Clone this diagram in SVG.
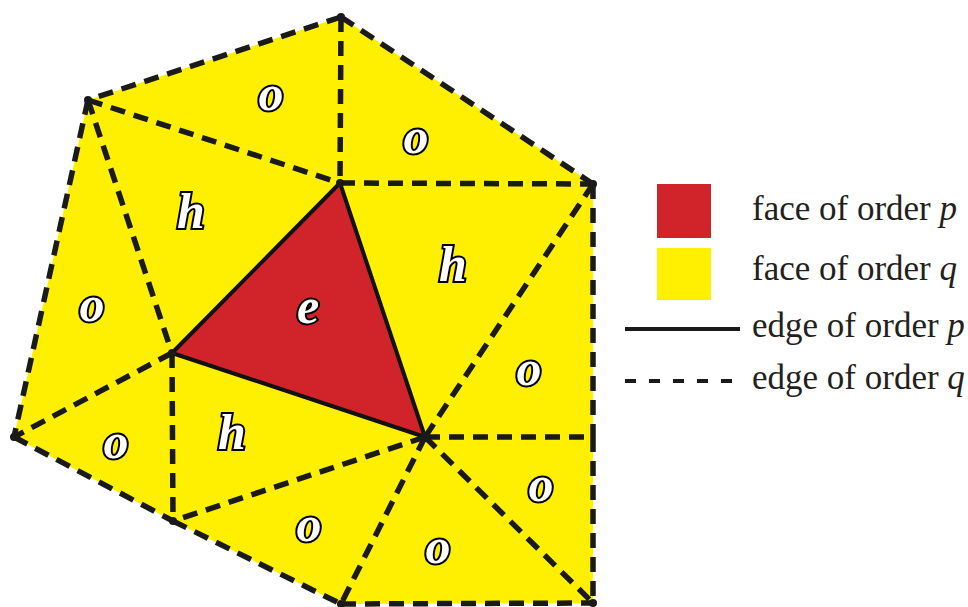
<svg xmlns="http://www.w3.org/2000/svg" width="968" height="607" viewBox="0 0 968 607">
<style>
.q{stroke:#1a1a1a;stroke-width:5.5;stroke-dasharray:15 9;fill:none}
.p{stroke:#111;stroke-width:4;fill:none;stroke-linejoin:round}
.lbl{font-family:"Liberation Serif","Times New Roman",serif;font-weight:bold;font-style:italic;font-size:50px;fill:#fff;stroke:#000;stroke-width:4;paint-order:stroke;text-anchor:middle}
.leg{font-family:"Liberation Serif","Times New Roman",serif;font-size:35px;fill:#231f20}
.v{fill:#1a1a1a}
</style>
<rect width="968" height="607" fill="#fff"/>
<g id="faces">
<polygon id="yellow-region" points="341,17 593,184 593,437 593,603 341,604 173,521 14,437 88,100" fill="#FFEF00"/>
<polygon id="red-face" points="340,183 172,353 425,437" fill="#D0232A"/>
</g>
<g id="connectors">
<line class="q" x1="341" y1="17" x2="88" y2="100"/>
<line class="q" x1="341" y1="17" x2="593" y2="184"/>
<line class="q" x1="341" y1="17" x2="340" y2="183"/>
<line class="q" x1="88" y1="100" x2="340" y2="183"/>
<line class="q" x1="88" y1="100" x2="172" y2="353"/>
<line class="q" x1="88" y1="100" x2="14" y2="437"/>
<line class="q" x1="340" y1="183" x2="593" y2="184"/>
<line class="q" x1="593" y1="184" x2="425" y2="437"/>
<line class="q" x1="593" y1="184" x2="593" y2="437"/>
<line class="q" x1="593" y1="437" x2="593" y2="603"/>
<line class="q" x1="425" y1="437" x2="593" y2="437"/>
<line class="q" x1="425" y1="437" x2="593" y2="603"/>
<line class="q" x1="425" y1="437" x2="341" y2="604"/>
<line class="q" x1="425" y1="437" x2="173" y2="521"/>
<line class="q" x1="172" y1="353" x2="173" y2="521"/>
<line class="q" x1="172" y1="353" x2="14" y2="437"/>
<line class="q" x1="14" y1="437" x2="173" y2="521"/>
<line class="q" x1="173" y1="521" x2="341" y2="604"/>
<line class="q" x1="341" y1="604" x2="593" y2="603"/>
<polygon class="p" points="340,183 172,353 425,437"/>
</g>
<g id="vertices">
<circle class="v" cx="341" cy="17" r="4"/>
<circle class="v" cx="88" cy="100" r="4"/>
<circle class="v" cx="340" cy="183" r="4"/>
<circle class="v" cx="593" cy="184" r="4"/>
<circle class="v" cx="172" cy="353" r="4"/>
<circle class="v" cx="425" cy="437" r="5"/>
<circle class="v" cx="14" cy="437" r="4"/>
<circle class="v" cx="173" cy="521" r="4"/>
<circle class="v" cx="341" cy="604" r="4"/>
<circle class="v" cx="593" cy="603" r="4"/>
</g>
<g id="labels">
<text class="lbl" x="271" y="110">o</text>
<text class="lbl" x="416" y="153">o</text>
<text class="lbl" x="191" y="228">h</text>
<text class="lbl" x="453" y="281">h</text>
<text class="lbl" x="308" y="323">e</text>
<text class="lbl" x="92" y="321">o</text>
<text class="lbl" x="529" y="385">o</text>
<text class="lbl" x="232" y="449">h</text>
<text class="lbl" x="116" y="458">o</text>
<text class="lbl" x="541" y="501">o</text>
<text class="lbl" x="309" y="541">o</text>
<text class="lbl" x="438" y="563">o</text>
</g>
<g id="legend">
<g id="legend-face-p"><rect x="657" y="184" width="54" height="54" fill="#D0232A"/><text class="leg" x="752" y="220">face of order <tspan font-style="italic">p</tspan></text></g>
<g id="legend-face-q"><rect x="657" y="248" width="54" height="52" fill="#FFEF00"/><text class="leg" x="752" y="280">face of order <tspan font-style="italic">q</tspan></text></g>
<g id="legend-edge-p"><line x1="625" y1="329" x2="740" y2="329" stroke="#1a1a1a" stroke-width="4"/><text class="leg" x="752" y="337">edge of order <tspan font-style="italic">p</tspan></text></g>
<g id="legend-edge-q"><line x1="625" y1="381" x2="740" y2="381" stroke="#1a1a1a" stroke-width="4" stroke-dasharray="11 13"/><text class="leg" x="752" y="389">edge of order <tspan font-style="italic">q</tspan></text></g>
</g>
</svg>
